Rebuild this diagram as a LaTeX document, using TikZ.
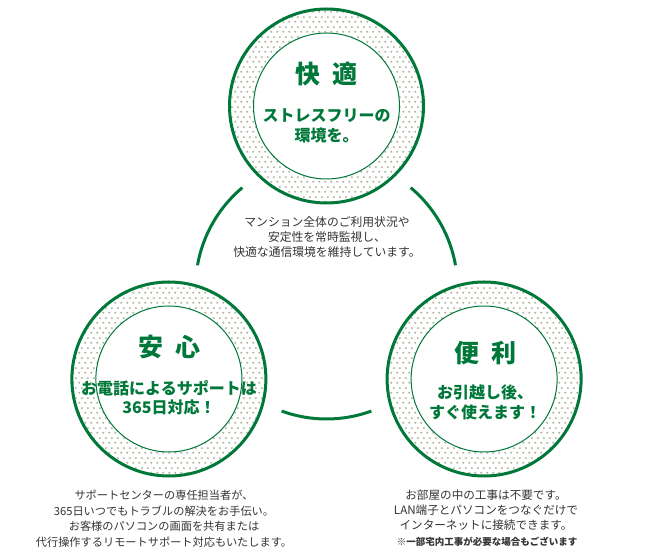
\documentclass[tikz,border=0pt]{standalone}
\usepackage{fontspec}
\setmainfont{Noto Sans CJK JP}
\usetikzlibrary{patterns,positioning}
\definecolor{ringgreen}{RGB}{0,120,58}
\definecolor{dotgray}{RGB}{180,180,160}
\definecolor{bodygray}{RGB}{51,51,51}
\pgfdeclarepatternformonly{ringdots}{\pgfqpoint{0pt}{0pt}}{\pgfqpoint{6pt}{10pt}}{\pgfqpoint{6pt}{10pt}}{%
  \pgfpathcircle{\pgfqpoint{1.5pt}{2.5pt}}{1.25pt}%
  \pgfpathcircle{\pgfqpoint{4.5pt}{7.5pt}}{1.25pt}%
  \pgfusepath{fill}}

\begin{document}
\begin{tikzpicture}[
  x=1pt, y=1pt,
  ring/.style={circle, draw=ringgreen, line width=3pt, pattern=ringdots,
    pattern color=dotgray, minimum size=194pt, inner sep=0pt},
  core/.style={circle, draw=ringgreen, line width=1pt, fill=white,
    minimum size=146pt, inner sep=0pt},
  title/.style={text=ringgreen, font=\fontsize{25}{25}\selectfont\bfseries, inner sep=0pt},
  lead/.style={text=ringgreen, align=center, font=\fontsize{16}{20}\selectfont\bfseries, inner sep=0pt},
  note/.style={text=bodygray, align=center, font=\fontsize{11.2}{15.5}\selectfont, inner sep=0pt},
  foot/.style={text=bodygray, font=\fontsize{9.5}{12}\selectfont\bfseries, inner sep=0pt},
  link/.style={draw=ringgreen, line width=3pt}
]
\useasboundingbox (0,0) rectangle (650,554);
\coordinate (hub) at (326.5,266);

\draw[link] ([shift={(130:131)}]hub) arc[start angle=130, end angle=170, radius=131];
\draw[link] ([shift={(10:131)}]hub) arc[start angle=10, end angle=50, radius=131];
\draw[link] ([shift={(250:131)}]hub) arc[start angle=250, end angle=290, radius=131];

\node[ring] (kaitekiring) at ([shift={(90:182)}]hub) {};
\node[core] (kaitekicore) at (kaitekiring) {};
\node[ring] (anshinring) at ([shift={(210:182)}]hub) {};
\node[core] (anshincore) at (anshinring) {};
\node[ring] (benriring) at ([shift={(330:182)}]hub) {};
\node[core] (benricore) at (benriring) {};

\node[title] (kaiteki) at (326.5,480) {快\hspace{12pt}適};
\node[lead] (kaitekilead) at (326.5,428) {ストレスフリーの\\環境を。};
\node[title] (anshin) at (169,207) {安\hspace{12pt}心};
\node[lead, font=\fontsize{16}{19}\selectfont\bfseries] (anshinlead) at (169,156.5) {お電話によるサポートは\\365日対応！};
\node[title] (benri) at (485,201) {便\hspace{12pt}利};
\node[lead] (benrilead) at (485,152) {お引越し後、\\すぐ使えます！};

\node[note, font=\fontsize{11.8}{15}\selectfont] (hubnote) at (327,317)
  {マンション全体のご利用状況や\\安定性を常時監視し、\\快適な通信環境を維持しています。};
\node[note] (anshinnote) at (164,35.5)
  {サポートセンターの専任担当者が、\\365日いつでもトラブルの解決をお手伝い。\\お客様のパソコンの画面を共有または\\代行操作するリモートサポート対応もいたします。};
\node[note, font=\fontsize{11.6}{15}\selectfont] (benrinote) at (486,44)
  {お部屋の中の工事は不要です。\\LAN端子とパソコンをつなぐだけで\\インターネットに接続できます。};
\node[foot] (benrifoot) at (487,12) {※一部宅内工事が必要な場合もございます};
\end{tikzpicture}
\end{document}
